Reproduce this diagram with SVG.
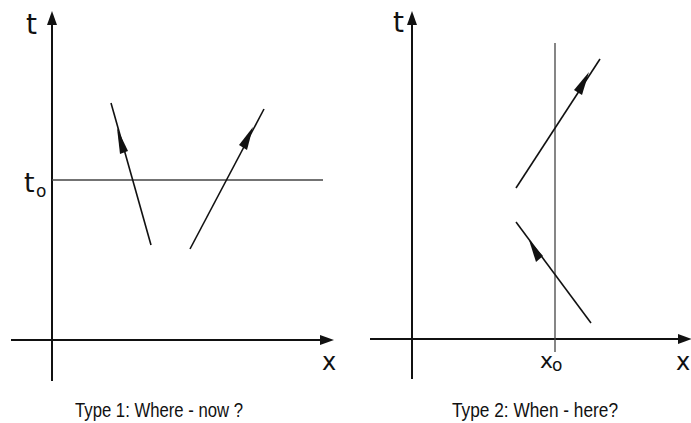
<svg xmlns="http://www.w3.org/2000/svg" width="691" height="423" viewBox="0 0 691 423">
<defs>
<style>
.ax{stroke:#111;stroke-width:2;fill:none}
.ln{stroke:#444;stroke-width:1.3;fill:none}
.wl{stroke:#111;stroke-width:1.6;fill:none}
.hd{fill:#111;stroke:none}
.lbl{font-family:"DejaVu Sans","Liberation Sans",sans-serif;fill:#111}
.cap{font-family:"Liberation Sans",Arial,sans-serif;font-size:21px;fill:#111}
</style>
</defs>
<rect width="691" height="423" fill="#fff"/>
<g id="connectors">
<line class="ax" x1="52" y1="22" x2="52" y2="381"/>
<polygon class="hd" points="52,11 47,25 57,25"/>
<line class="ax" x1="11" y1="340" x2="322" y2="340"/>
<polygon class="hd" points="334,340 320,335 320,345"/>
<line class="ln" x1="52" y1="180" x2="323" y2="180"/>
<line class="wl" x1="151" y1="245" x2="111" y2="103"/>
<polygon class="hd" points="117,128 120,154 128,151"/>
<line class="wl" x1="190" y1="249" x2="264" y2="109"/>
<polygon class="hd" points="253,127 239,145 247,150"/>
<line class="ax" x1="412" y1="22" x2="412" y2="379"/>
<polygon class="hd" points="412,11 407,25 417,25"/>
<line class="ax" x1="370" y1="339" x2="680" y2="339"/>
<polygon class="hd" points="692,339 678,334 678,344"/>
<line class="ln" x1="555" y1="43" x2="555" y2="352"/>
<line class="wl" x1="516" y1="188" x2="600" y2="59"/>
<polygon class="hd" points="589,72 574,90 582,95"/>
<line class="wl" x1="591" y1="323" x2="516" y2="222"/>
<polygon class="hd" points="529,240 536,262 543,256"/>
</g>
<g id="label-t1"><text class="lbl" x="26" y="34" font-size="28">t</text></g>
<g id="label-t0"><text class="lbl" x="24" y="192" font-size="27">t</text><text class="lbl" x="36" y="197" font-size="17">o</text></g>
<g id="label-x1"><text class="lbl" x="322" y="370" font-size="24">x</text></g>
<g id="label-t2"><text class="lbl" x="393" y="32" font-size="28">t</text></g>
<g id="label-x0"><text class="lbl" x="540" y="368" font-size="22">x</text><text class="lbl" x="552" y="371" font-size="17">o</text></g>
<g id="label-x2"><text class="lbl" x="676" y="370" font-size="24">x</text></g>
<g id="caption-1"><text class="cap" x="75" y="417" textLength="168" lengthAdjust="spacingAndGlyphs">Type 1: Where - now ?</text></g>
<g id="caption-2"><text class="cap" x="452" y="417" textLength="166" lengthAdjust="spacingAndGlyphs">Type 2: When - here?</text></g>
</svg>
